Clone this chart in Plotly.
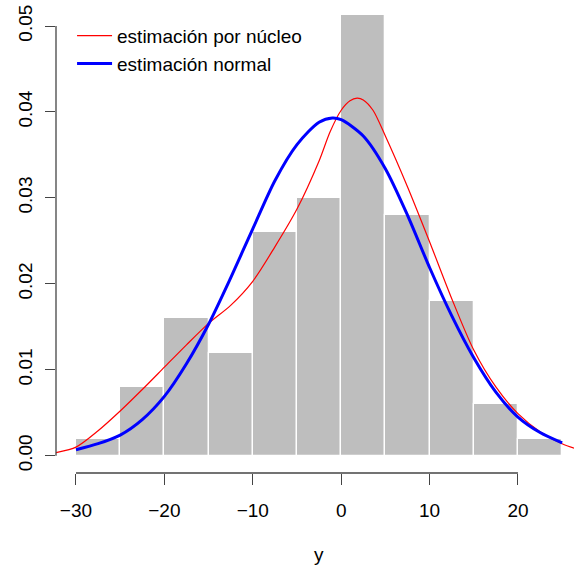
import plotly.graph_objects as go

# Histogram (density) data
bin_left = [-30, -25, -20, -15, -10, -5, 0, 5, 10, 15, 20]
bin_width = 5
density = [0.002, 0.008, 0.016, 0.012, 0.026, 0.030, 0.052, 0.028, 0.018, 0.006, 0.002]

# Kernel density estimate
kde_x = [-33.5, -32.5, -30, -27.5, -25, -22.5, -20, -17.5, -15, -12.5, -10, -7.5, -5,
         -2.5, -1.25, 0, 1, 1.8, 2.5, 3.6, 5, 7.5, 10, 12.5, 15, 17.5, 20, 22.5, 25, 27.5]
kde_y = [0.0001, 0.0003, 0.0010, 0.0029, 0.0052, 0.0077, 0.0103, 0.0129, 0.0154, 0.0175,
         0.0203, 0.0243, 0.0287, 0.0343, 0.0377, 0.0402, 0.0413, 0.0416, 0.0414, 0.0402,
         0.0372, 0.0313, 0.0249, 0.0183, 0.0123, 0.0080, 0.0049, 0.0028, 0.0014, 0.0005]

# Normal estimate
norm_x = [-30, -27.5, -25, -22.5, -20, -17.5, -15, -12.5, -10, -7.5, -5, -2.5, -1, 0,
          2.5, 5, 7.5, 10, 12.5, 15, 17.5, 20, 22.5, 25]
norm_y = [0.0007, 0.0014, 0.0024, 0.0042, 0.0069, 0.0107, 0.0153, 0.0207, 0.0264, 0.0320,
          0.0362, 0.0388, 0.0393, 0.0391, 0.0372, 0.0334, 0.0280, 0.0219, 0.0163, 0.0114,
          0.0074, 0.0045, 0.0027, 0.0015]

x_ticks = [-30, -20, -10, 0, 10, 20]
y_ticks = [0.00, 0.01, 0.02, 0.03, 0.04, 0.05]

FONT = "Liberation Sans, Arial, Helvetica, sans-serif"
AXC = "#444444"
FS = 19

fig = go.Figure()
fig.add_trace(go.Bar(
    x=[b + bin_width / 2 for b in bin_left], y=density, width=bin_width,
    marker=dict(color="#BEBEBE", line=dict(color="white", width=1.3)),
    showlegend=False, hoverinfo="skip"))
fig.add_trace(go.Scatter(
    x=kde_x, y=kde_y, mode="lines", name="estimación por núcleo",
    line=dict(color="#FF0000", width=1.2, shape="spline", smoothing=0.8)))
fig.add_trace(go.Scatter(
    x=norm_x, y=norm_y, mode="lines", name="estimación normal",
    line=dict(color="#0000FF", width=3, shape="spline", smoothing=0.8)))

# R-style axis lines spanning first to last tick
fig.add_shape(type="line", xref="x", yref="paper", x0=x_ticks[0], x1=x_ticks[-1], y0=0, y1=0,
              line=dict(color=AXC, width=1.3))
fig.add_shape(type="line", xref="paper", yref="y", x0=0, x1=0, y0=y_ticks[0], y1=y_ticks[-1],
              line=dict(color=AXC, width=1.3))

fig.add_annotation(text="y", x=-2.5, xref="x", y=-0.178, yref="paper", showarrow=False,
                   font=dict(family=FONT, size=FS, color="black"), yanchor="middle")

fig.update_layout(
    width=574, height=568,
    margin=dict(l=56, r=0, t=15, b=95),
    paper_bgcolor="white", plot_bgcolor="white",
    font=dict(family=FONT, size=FS, color="black"),
    bargap=0,
    xaxis=dict(range=[-32.26, 26.34], tickvals=x_ticks, ticks="outside", ticklen=11,
               tickwidth=1.3, tickcolor=AXC, showgrid=False, zeroline=False, showline=False,
               ticklabelstandoff=9),
    yaxis=dict(range=[-0.00201, 0.05128], tickvals=y_ticks, tickformat=".2f", ticks="outside",
               ticklen=10, tickwidth=1.3, tickcolor=AXC, showgrid=False, zeroline=False,
               showline=False, tickangle=-90, ticklabelstandoff=5),
    legend=dict(x=0.031, y=0.996, xanchor="left", yanchor="top", bgcolor="rgba(0,0,0,0)",
                font=dict(family=FONT, size=FS, color="black"), itemwidth=35,
                tracegroupgap=0),
)

fig.write_html("out.html")
